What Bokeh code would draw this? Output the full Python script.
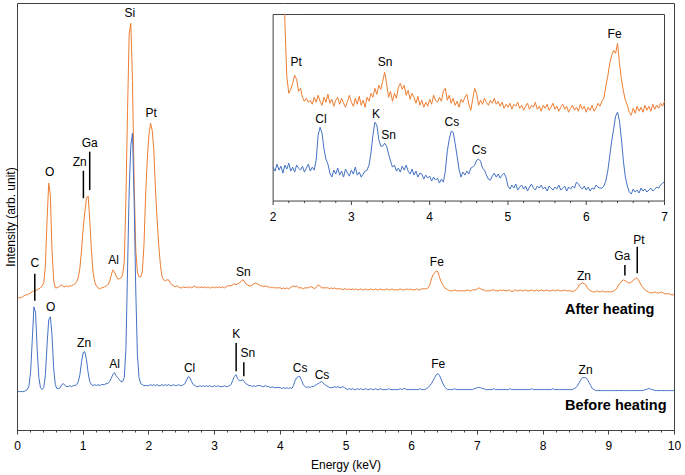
import numpy as np
from bokeh.plotting import figure
from bokeh.models import Range1d, SingleIntervalTicker, FixedTicker, ColumnDataSource
from bokeh.embed import file_html
from bokeh.resources import INLINE
from bokeh.core.properties import value

STEP = 0.025  # keV per channel

# Main panel spectra (0-10 keV), arbitrary intensity units
after_main = [
    133, 133, 133, 134, 135, 136, 136, 137,
    138, 139, 140, 140, 141, 142, 143, 145,
    148, 166, 211, 248, 236, 181, 151, 143,
    143, 144, 145, 146, 144, 144, 145, 144,
    145, 145, 146, 147, 149, 153, 163, 181,
    203, 219, 233, 235, 211, 181, 159, 149,
    145, 143, 142, 143, 143, 144, 145, 146,
    149, 155, 161, 159, 155, 152, 152, 153,
    156, 169, 231, 321, 398, 408, 351, 251,
    181, 159, 154, 154, 159, 186, 236, 271,
    296, 308, 301, 281, 241, 211, 186, 166,
    154, 151, 150, 151, 151, 148, 146, 145,
    144, 145, 144, 143, 143, 144, 143, 144,
    143, 144, 143, 144, 145, 143, 144, 143,
    144, 143, 144, 143, 144, 143, 143, 144,
    143, 144, 143, 144, 143, 144, 143, 144,
    145, 145, 145, 146, 147, 146, 147, 148,
    149, 151, 150, 147, 146, 145, 145, 146,
    147, 148, 147, 146, 145, 145, 144, 145,
    144, 144, 143, 144, 143, 143, 143, 143,
    143, 142, 143, 142, 143, 142, 143, 144,
    145, 144, 145, 143, 143, 143, 142, 143,
    143, 143, 144, 144, 143, 142, 144, 146,
    145, 143, 143, 143, 143, 143, 142, 143,
    142, 143, 142, 142, 142, 142, 141, 142,
    142, 141, 142, 141, 142, 141, 142, 141,
    141, 142, 141, 141, 142, 141, 141, 142,
    141, 141, 142, 141, 141, 142, 141, 141,
    141, 142, 141, 141, 142, 141, 141, 141,
    141, 142, 141, 141, 141, 142, 141, 142,
    141, 141, 141, 142, 141, 141, 142, 142,
    142, 142, 143, 146, 152, 156, 158, 160,
    159, 153, 149, 146, 143, 142, 141, 140,
    140, 140, 141, 140, 140, 140, 140, 140,
    140, 140, 141, 140, 140, 141, 141, 141,
    142, 143, 142, 141, 141, 140, 140, 140,
    140, 141, 141, 140, 140, 140, 141, 140,
    141, 140, 140, 141, 140, 139, 140, 141,
    140, 140, 141, 140, 140, 141, 140, 140,
    140, 141, 140, 140, 141, 140, 140, 141,
    140, 140, 141, 140, 140, 140, 141, 140,
    140, 141, 140, 140, 140, 141, 140, 140,
    140, 140, 139, 140, 141, 143, 146, 147,
    148, 147, 146, 143, 141, 140, 139, 139,
    139, 140, 139, 139, 140, 139, 139, 139,
    139, 139, 139, 140, 141, 143, 146, 148,
    150, 151, 150, 149, 148, 148, 149, 151,
    152, 153, 151, 148, 145, 143, 141, 140,
    139, 138, 138, 138, 139, 138, 138, 138,
    139, 138, 137, 137, 137, 137, 136, 136,
    136,
]
before_main = [
    39, 39, 39, 39, 39, 40, 41, 45,
    59, 91, 124, 118, 81, 53, 43, 41,
    43, 56, 86, 111, 114, 96, 63, 46,
    42, 42, 43, 46, 47, 45, 44, 44,
    45, 44, 45, 45, 46, 49, 56, 69,
    78, 79, 71, 58, 49, 46, 45, 46,
    45, 46, 45, 46, 46, 46, 47, 47,
    49, 52, 56, 58, 55, 53, 51, 49,
    49, 53, 81, 161, 241, 286, 298, 231,
    141, 76, 53, 47, 46, 45, 45, 45,
    45, 46, 45, 46, 45, 46, 45, 45,
    46, 45, 46, 45, 46, 45, 45, 46,
    45, 45, 46, 45, 45, 46, 47, 51,
    54, 53, 49, 46, 45, 44, 44, 45,
    44, 45, 44, 45, 44, 45, 44, 44,
    45, 44, 45, 44, 44, 44, 45, 44,
    44, 45, 46, 50, 54, 56, 52, 50,
    50, 51, 49, 47, 46, 45, 45, 44,
    45, 44, 45, 45, 45, 44, 44, 45,
    44, 44, 43, 44, 43, 43, 43, 43,
    43, 42, 43, 42, 43, 42, 43, 42,
    45, 50, 53, 54, 54, 50, 46, 44,
    43, 44, 43, 44, 44, 45, 46, 47,
    48, 49, 48, 46, 45, 44, 43, 43,
    43, 44, 43, 44, 43, 43, 44, 43,
    42, 41, 42, 41, 42, 41, 41, 42,
    41, 42, 41, 41, 42, 41, 41, 42,
    41, 41, 42, 41, 41, 42, 41, 41,
    41, 41, 42, 41, 41, 41, 41, 41,
    41, 42, 41, 42, 42, 41, 41, 41,
    41, 41, 41, 41, 41, 42, 41, 41,
    41, 42, 43, 45, 47, 50, 53, 56,
    57, 55, 51, 47, 44, 42, 41, 41,
    41, 41, 42, 41, 41, 41, 41, 41,
    41, 41, 41, 41, 41, 41, 42, 42,
    43, 43, 43, 42, 42, 41, 41, 41,
    41, 41, 42, 41, 41, 41, 41, 41,
    41, 41, 41, 41, 42, 41, 41, 41,
    41, 41, 41, 41, 41, 41, 41, 41,
    41, 42, 41, 41, 41, 41, 41, 41,
    41, 41, 41, 41, 41, 41, 42, 41,
    41, 41, 41, 41, 41, 41, 41, 41,
    41, 41, 41, 42, 43, 45, 48, 51,
    53, 53, 53, 51, 48, 45, 42, 41,
    40, 40, 40, 40, 40, 40, 40, 40,
    40, 40, 40, 40, 40, 40, 40, 40,
    40, 40, 40, 40, 40, 40, 40, 40,
    40, 40, 40, 40, 40, 40, 41, 41,
    42, 42, 41, 41, 40, 40, 40, 40,
    40, 40, 40, 40, 40, 40, 40, 40,
    40,
]

# Inset spectra (2-7 keV, magnified), arbitrary units
after_inset = [
    520, 560, 540, 480, 390, 300, 180, 125,
    108, 112, 118, 126, 122, 110, 113, 104,
    100, 103, 99, 101, 97, 104, 99, 106,
    100, 96, 104, 99, 107, 98, 102, 95,
    101, 104, 97, 103, 98, 94, 100, 106,
    99, 95, 103, 97, 105, 96, 101, 94,
    104, 100, 108, 104, 113, 107, 116, 112,
    120, 129, 118, 104, 110, 100, 108, 103,
    114, 118, 112, 116, 106, 111, 102, 108,
    104, 98, 105, 96, 101, 94, 99, 95,
    102, 97, 106, 101, 99, 104, 100, 110,
    113, 101, 106, 98, 103, 96, 100, 94,
    102, 99, 104, 107, 97, 91, 102, 113,
    108, 96, 101, 97, 103, 99, 96, 101,
    98, 103, 97, 100, 95, 99, 93, 97,
    94, 98, 92, 97, 95, 99, 93, 96,
    91, 95, 98, 92, 96, 94, 99, 92,
    95, 90, 96, 93, 97, 91, 94, 98,
    92, 95, 90, 94, 97, 92, 95, 89,
    93, 96, 91, 94, 90, 97, 92, 95,
    89, 94, 91, 96, 90, 93, 98, 95,
    100, 103, 115, 125, 138, 146, 151, 148,
    158, 138, 122, 110, 101, 96, 89, 86,
    93, 88, 95, 90, 94, 89, 96, 91,
    95, 90, 97, 92, 96, 93, 98, 95,
    100,
]
before_inset = [
    34, 30, 37, 31, 35, 28, 36, 32,
    38, 30, 34, 29, 36, 33, 31, 35,
    29, 33, 37, 30, 34, 31, 41, 66,
    74, 68, 52, 42, 37, 28, 24, 31,
    27, 33, 26, 30, 24, 32, 28, 25,
    31, 27, 34, 26, 29, 24, 27, 30,
    31, 36, 48, 66, 79, 76, 62, 55,
    55, 58, 55, 47, 40, 34, 36, 30,
    33, 29, 35, 31, 36, 30, 27, 32,
    26, 30, 24, 28, 27, 22, 26, 23,
    25, 20, 24, 21, 23, 18, 22, 19,
    30, 50, 62, 70, 69, 58, 45, 32,
    24, 29, 26, 30, 27, 33, 34, 36,
    41, 42, 40, 33, 31, 26, 22, 21,
    25, 28, 24, 27, 23, 26, 28, 24,
    15, 12, 16, 13, 17, 11, 14, 16,
    12, 15, 10, 14, 17, 13, 11, 15,
    13, 16, 12, 14, 10, 15, 13, 11,
    14, 12, 16, 11, 13, 15, 10, 14,
    12, 15, 13, 19, 17, 14, 12, 15,
    11, 14, 10, 13, 12, 16, 14, 13,
    13, 15, 20, 30, 45, 60, 72, 85,
    89, 80, 62, 40, 24, 15, 9, 7,
    12, 9, 11, 8, 13, 10, 12, 9,
    11, 13, 10, 12, 14, 13, 16, 18,
    19,
]

# Peak labels (main panel)
main_lbl_text = ["C", "O", "Zn", "Ga", "Si", "Pt", "Al", "Sn", "Fe", "Zn", "Ga", "Pt",
                 "O", "Zn", "Al", "Cl", "K", "Sn", "Cs", "Cs", "Fe", "Zn"]
main_lbl_x = [0.263, 0.491, 0.947, 1.099, 1.71, 2.036, 1.464, 3.439, 6.383, 8.622, 9.205, 9.457,
              0.506, 1.014, 1.479, 2.619, 3.328, 3.506, 4.301, 4.635, 6.403, 8.647]
main_lbl_y = [167.7, 259.3, 268.7, 288.3, 418.3, 318.3, 171, 159.3, 168.7, 155.3, 175, 191,
              123.3, 87.7, 67, 62.7, 97, 77.7, 62.7, 56, 66.7, 61]
# Leader lines (energy, top, bottom)
lead_x = [0.263, 1.003, 1.099, 9.245, 9.433, 3.328, 3.445]
lead_top = [157, 260.3, 279.3, 166, 184.3, 87.7, 68.3]
lead_bot = [130, 232.7, 241, 155.3, 157.7, 59.3, 54.3]

series_names = ["After heating", "Before heating"]
series_lbl_x = [8.333, 8.333]
series_lbl_y = [121.7, 26]

# Inset axis and peak labels
inset_x_min, inset_x_max = 2, 7
inset_y_min, inset_y_max = 0, 187
inset_ticks = [2, 3, 4, 5, 6, 7]
inset_tick_labels = ["2", "3", "4", "5", "6", "7"]
inset_lbl_text = ["Pt", "Sn", "Fe", "Cl", "K", "Sn", "Cs", "Cs"]
inset_lbl_x = [2.293, 3.432, 6.362, 2.612, 3.314, 3.476, 4.283, 4.631]
inset_lbl_y = [139.3, 139.3, 167.7, 82.7, 87.7, 66, 79.3, 51]

ORANGE = "#ED7D31"
BLUE = "#4472C4"
FRAME = "#404040"
FONT = "Liberation Sans"

energy = np.arange(len(after_main)) * STEP
energy_inset = inset_x_min + np.arange(len(after_inset)) * STEP

p = figure(width=682, height=474, x_range=Range1d(0, 10), y_range=Range1d(0, 428),
           output_backend="svg", toolbar_location=None,
           min_border_left=16, min_border_right=8, min_border_top=3, min_border_bottom=43)
# inset placed inside the same frame through its own ranges
p.extra_x_ranges = {"ix": Range1d(-1.26531, 7.12755)}
p.extra_y_ranges = {"iy": Range1d(-230, 198)}
p.grid.visible = False
p.outline_line_color = FRAME
p.outline_line_width = 1
p.background_fill_color = "white"
p.border_fill_color = "white"

# ---- main spectra ----
p.line(energy, after_main, line_color=ORANGE, line_width=1)
p.line(energy, before_main, line_color=BLUE, line_width=1)

ax = p.xaxis[0]
ax.ticker = SingleIntervalTicker(interval=1, num_minor_ticks=5)
ax.major_tick_in = 0
ax.major_tick_out = 4
ax.minor_tick_in = 0
ax.minor_tick_out = 2
ax.axis_line_color = FRAME
ax.major_tick_line_color = FRAME
ax.minor_tick_line_color = FRAME
ax.major_label_text_font = FONT
ax.major_label_text_font_size = "12px"
ax.major_label_text_color = "black"
ax.major_label_standoff = 6
ax.axis_label = "Energy (keV)"
ax.axis_label_text_font = FONT
ax.axis_label_text_font_size = "12px"
ax.axis_label_text_font_style = "normal"
ax.axis_label_text_color = "black"
ax.axis_label_standoff = 5

yax = p.yaxis[0]
yax.ticker = FixedTicker(ticks=[])
yax.major_tick_out = 0
yax.major_tick_in = 0
yax.minor_tick_out = 0
yax.minor_tick_in = 0
yax.axis_line_color = None
yax.axis_label = "Intensity (arb. unit)"
yax.axis_label_text_font = FONT
yax.axis_label_text_font_size = "12px"
yax.axis_label_text_font_style = "normal"
yax.axis_label_text_color = "black"
yax.axis_label_standoff = 0

lbl_src = ColumnDataSource(dict(x=main_lbl_x, y=main_lbl_y, t=main_lbl_text))
p.text(x="x", y="y", text="t", source=lbl_src, text_font=value(FONT), text_font_size="12px",
       text_align="center", text_baseline="middle", text_color="black")
p.segment(x0=lead_x, y0=lead_top, x1=lead_x, y1=lead_bot, line_color="black", line_width=1.5)
ser_src = ColumnDataSource(dict(x=series_lbl_x, y=series_lbl_y, t=series_names))
p.text(x="x", y="y", text="t", source=ser_src, text_font=value(FONT), text_font_size="14.5px",
       text_font_style="bold", text_align="left", text_baseline="middle", text_color="black")

# ---- inset ----
IR = dict(x_range_name="ix", y_range_name="iy")
p.quad(left=[inset_x_min], right=[inset_x_max], bottom=[inset_y_min], top=[inset_y_max],
       fill_color="white", line_color=FRAME, line_width=1, **IR)
p.line(energy_inset, after_inset, line_color=ORANGE, line_width=1, **IR)
p.line(energy_inset, before_inset, line_color=BLUE, line_width=1, **IR)
# hide the part of the inset trace that leaves the inset box at the top
p.quad(left=[inset_x_min - 0.05], right=[inset_x_min + 0.4], bottom=[inset_y_max + 0.6],
       top=[inset_y_max + 10.4], fill_color="white", line_color=None, **IR)
# inset ticks
minor = [t for t in np.round(np.arange(inset_x_min, inset_x_max + 1e-9, 0.2), 1)
         if abs(t - round(t)) > 1e-6]
p.segment(x0=inset_ticks, y0=[inset_y_min] * len(inset_ticks), x1=inset_ticks,
          y1=[inset_y_min - 4] * len(inset_ticks), line_color=FRAME, line_width=1, **IR)
p.segment(x0=minor, y0=[inset_y_min] * len(minor), x1=minor,
          y1=[inset_y_min - 2] * len(minor), line_color=FRAME, line_width=1, **IR)
tick_src = ColumnDataSource(dict(x=inset_ticks, y=[inset_y_min - 15.7] * len(inset_ticks),
                                 t=inset_tick_labels))
p.text(x="x", y="y", text="t", source=tick_src, text_font=value(FONT), text_font_size="12px",
       text_align="center", text_baseline="middle", text_color="black", **IR)
ilbl_src = ColumnDataSource(dict(x=inset_lbl_x, y=inset_lbl_y, t=inset_lbl_text))
p.text(x="x", y="y", text="t", source=ilbl_src, text_font=value(FONT), text_font_size="12px",
       text_align="center", text_baseline="middle", text_color="black", **IR)

open("out.html", "w").write(file_html(p, INLINE))
